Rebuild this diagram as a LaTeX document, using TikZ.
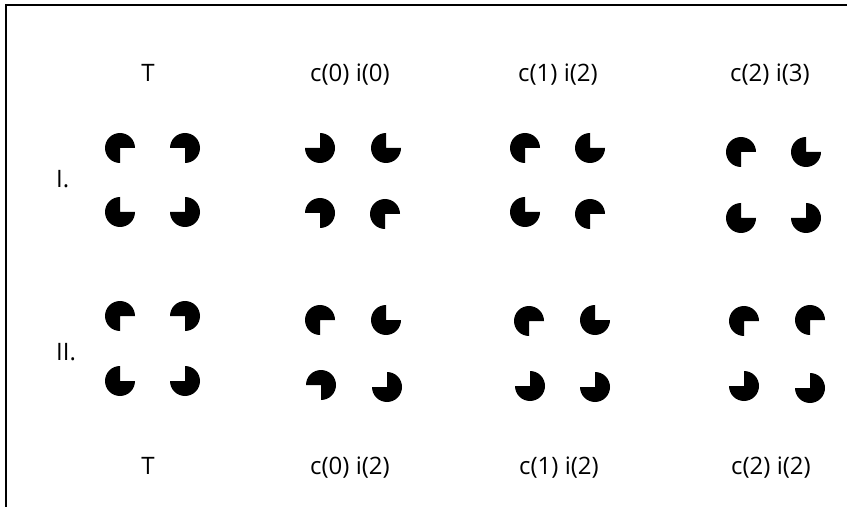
\documentclass[tikz,border=0pt]{standalone}
\usepackage{fontspec}
\setmainfont{Open Sans}
\newcommand\pacm[3]{\fill[black] (#1,#2) -- ++(#3:15pt) arc[start angle=#3, delta angle=270, radius=15pt] -- cycle;}
\begin{document}
\begin{tikzpicture}[x=1pt,y=1pt,
  lbl/.style={font=\fontsize{24}{27}\selectfont, anchor=base, inner sep=0pt},
  rowlbl/.style={font=\fontsize{24}{27}\selectfont, anchor=base west, inner sep=0pt},
  frame/.style={line width=2.5pt}]
\useasboundingbox (0,0) rectangle (847,507);
\fill[white] (0,0) rectangle (847,507);
\draw[frame] (847,502) -- (6,502) -- (6,0);
% column labels
\node[lbl] (t1) at (148,425) {T};
\node[lbl] (t2) at (350,425) {c(0) i(0)};
\node[lbl] (t3) at (558,425) {c(1) i(2)};
\node[lbl] (t4) at (770,425) {c(2) i(3)};
\node[lbl] (b1) at (148,33) {T};
\node[lbl] (b2) at (350,33) {c(0) i(2)};
\node[lbl] (b3) at (559,33) {c(1) i(2)};
\node[lbl] (b4) at (771,33) {c(2) i(2)};
\node[rowlbl] (r1) at (56,319) {I.};
\node[rowlbl] (r2) at (56,147) {II.};
% Row I
\pacm{120}{359}{0}\pacm{185}{359}{270}\pacm{120}{295}{90}\pacm{185}{295}{180}
\pacm{320}{359}{180}\pacm{386}{359}{90}\pacm{320}{294}{270}\pacm{385}{293}{0}
\pacm{525}{359}{0}\pacm{590}{359}{90}\pacm{525}{295}{90}\pacm{590}{293}{0}
\pacm{741}{355}{0}\pacm{806}{355}{90}\pacm{741}{289}{90}\pacm{806}{289}{180}
% Row II
\pacm{120}{191}{0}\pacm{185}{191}{270}\pacm{120}{126}{90}\pacm{185}{126}{180}
\pacm{320}{187}{0}\pacm{386}{187}{90}\pacm{321}{122}{270}\pacm{387}{120}{180}
\pacm{529}{186}{0}\pacm{595}{187}{90}\pacm{530}{121}{180}\pacm{595}{120}{180}
\pacm{744}{186}{0}\pacm{810}{187}{0}\pacm{744}{121}{180}\pacm{810}{119}{180}
\end{tikzpicture}
\end{document}
